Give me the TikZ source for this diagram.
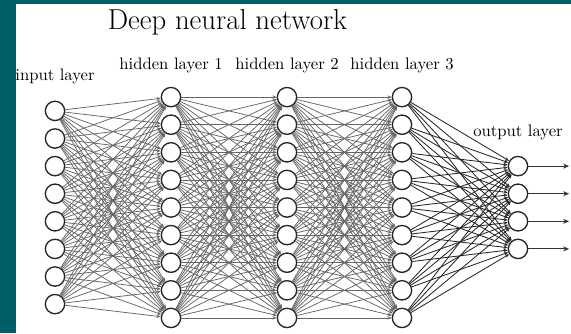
\documentclass[tikz,border=0pt]{standalone}
\usetikzlibrary{arrows.meta}
\definecolor{frameteal}{RGB}{0,94,104}
\begin{document}
\begin{tikzpicture}[x=0.6pt, y=-0.6pt,
        neuron/.style={circle, draw=black!85, line width=0.8pt, fill=white,
            minimum size=11.6pt, inner sep=0pt},
        layerlabel/.style={anchor=base, font=\normalsize},
        edge/.style={-{Stealth[length=2.5pt, width=2pt]}, line width=0.45pt, draw=black!60},
        outedge/.style={-{Stealth[length=2.5pt, width=2pt]}, line width=0.5pt, draw=black!85},
        outarrow/.style={-{Stealth[length=3.5pt, width=3pt]}, line width=0.5pt, draw=black!80}
      ]
      \fill[frameteal] (0,0) rectangle (571,333);
      \fill[white] (16,4) rectangle (571,333);

      \node[anchor=base] (title) at (227.5,29)
      {\LARGE Deep neural network};

      % layers
      \foreach \i in {1,...,8}{
          \node[neuron] (in-\i) at (55,{207.5+(\i-4.5)*27.6}) {};
        }
      \foreach \l/\x in {1/171, 2/287, 3/402}{
          \foreach \j in {1,...,9}{
              \node[neuron] (h\l-\j) at (\x,{207.5+(\j-5)*27.6}) {};
            }
        }
      \foreach \k in {1,...,4}{
          \node[neuron] (out-\k) at (518,{207.5+(\k-2.5)*27.6}) {};
          \coordinate (y-\k) at (569,{207.5+(\k-2.5)*27.6});
        }

      \node[layerlabel] (lbl-in) at (55,80) {input layer};
      \node[layerlabel] (lbl-h1) at (171,69) {hidden layer 1};
      \node[layerlabel] (lbl-h2) at (287,69) {hidden layer 2};
      \node[layerlabel] (lbl-h3) at (402,69) {hidden layer 3};
      \node[layerlabel] (lbl-out) at (518,136) {output layer};

      % connections
      \foreach \i in {1,...,8}{
          \foreach \j in {1,...,9}{
              \draw[edge] (in-\i) -- (h1-\j);
            }
        }
      \foreach \a/\b in {1/2, 2/3}{
          \foreach \i in {1,...,9}{
              \foreach \j in {1,...,9}{
                  \draw[edge] (h\a-\i) -- (h\b-\j);
                }
            }
        }
      \foreach \i in {1,...,9}{
          \foreach \k in {1,...,4}{
              \draw[outedge] (h3-\i) -- (out-\k);
            }
        }
      \foreach \k in {1,...,4}{
          \draw[outarrow] (out-\k) -- (y-\k);
        }
    \end{tikzpicture}
\end{document}
